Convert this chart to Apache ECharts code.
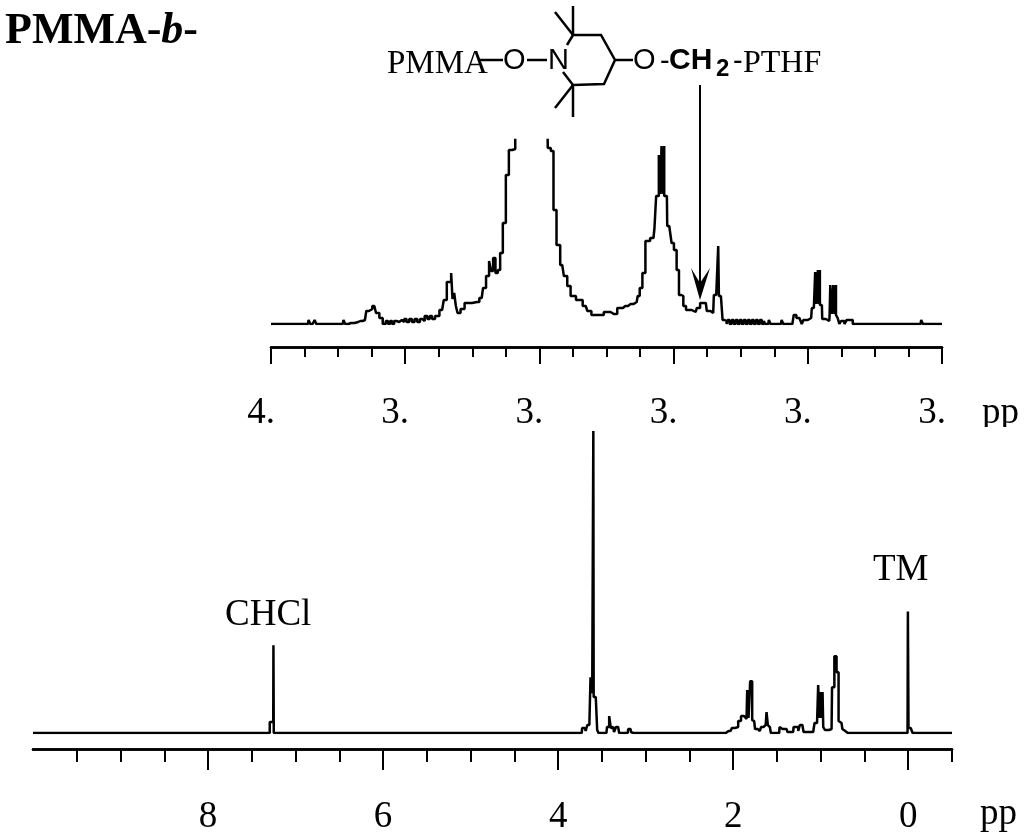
<!DOCTYPE html>
<html>
<head>
<meta charset="utf-8">
<title>PMMA-b-PTHF</title>
<style>
html,body{margin:0;padding:0;background:#fff;}
#main{width:1024px;height:836px;}
</style>
<script src="https://cdn.jsdelivr.net/npm/echarts@6/dist/echarts.min.js"></script>
</head>
<body>
<div id="main"></div>
<script>
// expanded region, ppm / intensity
var upperTrace = [[4.000,0],[3.945,0],[3.943,4],[3.940,0],[3.936,0],[3.934,4],[3.931,0],[3.893,0],[3.891,4],[3.888,0],
	[3.881,1],[3.870,2],[3.867,3],[3.860,4],[3.856,13],[3.852,15],[3.846,18],[3.841,11],[3.836,6],[3.831,0],
	[3.827,3],[3.824,0],[3.821,3],[3.818,0],[3.815,3],[3.811,2],[3.807,4],[3.803,2],[3.800,5],[3.796,2],[3.792,5],[3.788,2],[3.784,5],[3.780,2],[3.776,5],[3.773,3],[3.769,8],
	[3.765,5],[3.762,8],[3.758,5],[3.753,8],[3.745,14],[3.740,24],[3.736,42],[3.733,42],[3.730,51],[3.729,25],[3.725,31],[3.724,18],
	[3.720,11],[3.715,15],[3.708,21],[3.693,22],[3.686,26],[3.682,36],[3.677,48],[3.673,63],[3.671,53],[3.667,66],
	[3.664,51],[3.660,54],[3.657,71],[3.652,101],[3.648,149],[3.643,174],[3.638,175],[3.634,300],[3.600,420],
	[3.590,300],[3.585,176],[3.581,173],[3.577,114],[3.572,79],[3.566,59],[3.561,48],[3.556,38],[3.551,28],
	[3.540,24],[3.531,18],[3.526,13],[3.519,9],[3.509,9],[3.499,12],[3.489,10],[3.479,16],[3.472,18],[3.464,20],
	[3.455,22],[3.452,28],[3.449,36],[3.444,51],[3.440,83],[3.430,86],[3.427,96],[3.425,128],[3.422,128],[3.422,169],
	[3.420,169],[3.420,130],[3.418,130],[3.418,178],[3.416,178],[3.416,130],[3.414,130],[3.414,178],[3.414,128],[3.410,128],[3.409,98],[3.404,98],[3.402,81],[3.397,74],
	[3.394,54],[3.390,29],[3.387,28],[3.384,18],[3.379,14],[3.367,12],[3.364,16],[3.357,21],[3.352,21],[3.349,13],
	[3.341,11],[3.339,29],[3.334,29],[3.333,78],[3.332,28],[3.327,28],[3.327,4],[3.321,3],[3.321,0],
	[3.318,4],[3.315,0],[3.312,4],[3.309,0],[3.306,4],[3.303,0],[3.300,4],[3.297,0],[3.294,4],[3.291,0],[3.288,4],[3.285,0],[3.282,4],[3.279,0],[3.276,4],[3.273,0],[3.270,4],[3.267,0],[3.264,3],[3.263,0],[3.259,0],[3.257,4],[3.254,0],[3.240,0],[3.238,4],
	[3.235,0],[3.223,0],[3.219,9],[3.215,6],[3.210,4],[3.208,0],[3.205,4],[3.195,6],[3.193,16],[3.189,18],[3.189,52],
	[3.187,52],[3.187,20],[3.185,20],[3.185,54],[3.183,54],[3.183,20],[3.182,20],[3.182,54],[3.182,19],[3.179,19],[3.178,5],[3.168,3],[3.167,9],[3.166,39],
	[3.164,39],[3.164,10],[3.162,10],[3.162,39],[3.160,39],[3.160,10],[3.158,10],[3.158,39],[3.158,9],[3.153,6],[3.153,0],[3.148,3],[3.143,0],[3.141,4],[3.133,4],[3.133,0],[3.032,0],[3.030,4],[3.027,0],[3.000,0]];

// full spectrum
var lowerTrace = [[10.000,0],[7.295,0],[7.295,11],[7.255,11],[7.251,88],[7.247,0],[3.730,0],[3.722,5],[3.695,5],
	[3.676,2],[3.657,8],[3.630,8],[3.630,56],[3.620,56],[3.620,40],[3.610,40],[3.610,56],[3.600,56],[3.596,303],[3.592,36],[3.570,36],[3.554,36],[3.554,3],
	[3.524,0],[3.448,0],[3.436,6],[3.421,6],[3.413,17],[3.398,17],[3.398,5],[3.371,6],[3.352,1],[3.326,6],[3.303,6],
	[3.303,0],[3.204,0],[3.196,4],[3.173,4],[3.162,1],[3.143,0],[2.084,0],[2.076,2],[2.030,2],[2.000,5],[1.962,6],
	[1.924,12],[1.897,17],[1.855,15],[1.840,14],[1.840,43],[1.825,43],[1.825,15],[1.810,15],[1.810,43],[1.802,52],[1.783,52],[1.783,13],[1.760,12],
	[1.741,4],[1.695,2],[1.669,6],[1.638,8],[1.619,8],[1.619,21],[1.604,21],[1.604,8],[1.581,6],[1.558,0],[1.474,0],
	[1.467,6],[1.436,4],[1.390,4],[1.372,1],[1.314,1],[1.307,6],[1.257,6],[1.257,2],[1.219,8],[1.200,8],[1.192,1],
	[1.086,1],[1.055,10],[1.029,12],[1.029,48],[1.015,48],[1.015,15],[1.002,15],[1.002,41],[0.990,41],[0.990,15],[0.979,15],[0.979,41],[0.971,41],[0.971,6],[0.933,3],[0.876,4],[0.865,46],
	[0.850,46],[0.838,77],[0.819,77],[0.819,61],[0.796,61],[0.796,12],[0.762,10],[0.743,4],[0.720,2],[0.690,0],[0.680,0],
	[0.008,0],[0.000,122],[-0.006,5],[-0.050,5],[-0.050,0],[-0.500,0]];

var upperMinorTicks = [3.95,3.9,3.85,3.75,3.7,3.65,3.55,3.5,3.45,3.35,3.3,3.25,3.15,3.1,3.05];
var upperMajorTicks = [4,3.8,3.6,3.4,3.2,3];
var upperTickLabels = ['4.','3.','3.','3.','3.','3.'];

var lowerMinorTicks = [9.5,9,8.5,7.5,7,6.5,5.5,5,4.5,3.5,3,2.5,1.5,1,0.5,-0.5];
var lowerMajorTicks = [8,6,4,2,0];
var lowerTickLabels = ['8','6','4','2','0'];

var serif = '"Liberation Serif"';
var sans = '"Liberation Sans"';

function axisPair(gridIndex, min, max, offset, minor, major, labels, shortLen, longLen, pad, margin) {
	var line = {show: true, onZero: false, lineStyle: {color: '#000', width: 2.5}};
	return [{
		type: 'value', gridIndex: gridIndex, inverse: true, min: min, max: max, offset: offset,
		position: 'bottom', splitLine: {show: false}, axisLine: line,
		axisTick: {show: true, length: shortLen, customValues: minor, lineStyle: {color: '#000', width: 2}},
		axisLabel: {show: false}
	}, {
		type: 'value', gridIndex: gridIndex, inverse: true, min: min, max: max, offset: offset,
		position: 'bottom', splitLine: {show: false}, axisLine: line,
		axisTick: {show: true, length: longLen, customValues: major, lineStyle: {color: '#000', width: 2}},
		axisLabel: {
			show: true, customValues: major, color: '#000', fontFamily: serif, fontSize: 37,
			margin: margin, padding: pad,
			formatter: function (v) { return labels[major.indexOf(v)]; }
		}
	}];
}

function text(str, x, y, size, family, weight) {
	return {type: 'text', x: x, y: y, z: 10, style: {
		text: str, fill: '#000', font: (weight || 'normal') + ' ' + size + 'px ' + family,
		align: 'left', verticalAlign: 'middle'
	}};
}

function bond(points) {
	return {type: 'polyline', z: 10, shape: {points: points}, style: {stroke: '#000', lineWidth: 2.5, fill: null}};
}

var molecule = [
	bond([[480,60],[503,60]]),
	bond([[527,60],[547,60]]),
	bond([[567,45],[573,35],[601,35],[615,60],[604,84],[573,85],[563,72]]),
	bond([[573,6],[573,35]]),
	bond([[555,12],[573,35]]),
	bond([[573,85],[573,117]]),
	bond([[573,85],[555,108]]),
	bond([[615,60],[633,60]]),
	text('PMMA', 387, 64, 33, serif),
	text('O', 503, 61, 29, sans),
	text('N', 548, 61, 29, sans),
	text('O', 633, 61, 29, sans),
	text('-', 660, 62, 29, sans),
	text('CH', 669, 61, 30, sans, 'bold'),
	text('2', 716, 69, 24, sans, 'bold'),
	text('-', 733, 62, 29, sans),
	text('PTHF', 743, 64, 32, serif)
];

var arrow = [
	{type: 'line', z: 10, shape: {x1: 700, y1: 85, x2: 700, y2: 285}, style: {stroke: '#000', lineWidth: 2}},
	{type: 'polygon', z: 10, shape: {points: [[700,300],[691,268],[700,283],[710,268]]}, style: {fill: '#000'}}
];

var labels = [
	{type: 'text', x: 5, y: 32, z: 10, style: {
		text: '{a|PMMA-}{b|b}{a|-}', verticalAlign: 'middle', align: 'left',
		rich: {
			a: {font: 'bold 44px ' + serif, fill: '#000'},
			b: {font: 'italic bold 44px ' + serif, fill: '#000'}
		}
	}},
	text('CHCl', 225, 615, 37, serif),
	text('TM', 873, 570, 37, serif),
	text('pp', 982, 413, 37, serif),
	text('pp', 980, 814, 37, serif),
	{type: 'rect', z: 11, shape: {x: 975, y: 427, width: 49, height: 12}, style: {fill: '#fff'}}
];

var chart = echarts.init(document.getElementById('main'), null, {renderer: 'canvas'});
chart.setOption({
	animation: false,
	backgroundColor: '#fff',
	grid: [
		{left: 271, top: 140, width: 671, height: 184},
		{left: 33, top: 431, width: 919, height: 303}
	],
	xAxis: axisPair(0, 3, 4, 23, upperMinorTicks, upperMajorTicks, upperTickLabels, 10, 17, [0, 20, 0, 0], 48)
		.concat(axisPair(1, -0.5, 10, 16, lowerMinorTicks, lowerMajorTicks, lowerTickLabels, 13, 21, 0, 50)),
	yAxis: [
		{type: 'value', gridIndex: 0, min: 0, max: 184, show: false},
		{type: 'value', gridIndex: 1, min: 0, max: 303, show: false}
	],
	series: [
		{type: 'line', xAxisIndex: 0, yAxisIndex: 0, data: upperTrace, showSymbol: false, symbol: 'none', clip: true, step: 'middle',
			lineStyle: {color: '#000', width: 2.5, join: 'bevel'}},
		{type: 'line', xAxisIndex: 2, yAxisIndex: 1, data: lowerTrace, showSymbol: false, symbol: 'none', clip: true, step: 'middle',
			lineStyle: {color: '#000', width: 2.5, join: 'bevel'}}
	],
	graphic: molecule.concat(arrow, labels)
});
</script>
</body>
</html>
